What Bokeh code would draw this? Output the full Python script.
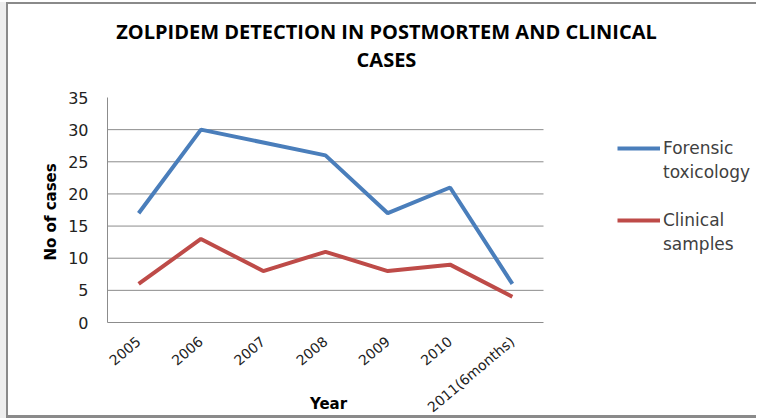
from bokeh.plotting import figure
from bokeh.models import (Range1d, Legend, LegendItem, Title, Label,
                          FixedTicker, ColumnDataSource)
from bokeh.embed import file_html
from bokeh.resources import INLINE

# ---- data ----
years = ["2005", "2006", "2007", "2008", "2009", "2010", "2011(6months)"]
forensic = [17, 30, 28, 26, 17, 21, 6]
clinical = [6, 13, 8, 11, 8, 9, 4]
y_ticks = [0, 5, 10, 15, 20, 25, 30, 35]
title_lines = ["ZOLPIDEM DETECTION IN POSTMORTEM AND CLINICAL", "CASES"]
series_names = [("Forensic", "toxicology"), ("Clinical", "samples")]
x_title = "Year"
y_title = "No of cases"

BLUE = "#4A7EBB"
RED = "#BE4B48"
GRID = "#8c8c8c"

n = len(years)
x_pos = [i + 0.5 for i in range(n)]          # category centres
y_max = y_ticks[-1]

# plot area: data part is 436 x 225 px; frame is extended right/up to host the
# legend and title (annotations are clipped to the frame)
FRAME_W, FRAME_H = 651, 318
DATA_W, DATA_H = 436, 225

src = ColumnDataSource(dict(x=x_pos, forensic=forensic, clinical=clinical))
grid_src = ColumnDataSource(dict(x0=[0] * (len(y_ticks) - 2), x1=[n] * (len(y_ticks) - 2),
                                 y=y_ticks[1:-1]))
empty = ColumnDataSource(dict(x=[], v=[]))

p = figure(width=750, height=416,
           x_range=Range1d(0, n * FRAME_W / DATA_W),
           y_range=Range1d(0, y_max * FRAME_H / DATA_H),
           output_backend="svg", toolbar_location=None,
           min_border_left=99, min_border_right=0,
           min_border_top=0, min_border_bottom=98)
p.styles = {"margin-left": "6px", "margin-top": "2px",
            "border-left": "2px solid #8a8a8a",
            "border-top": "2px solid #8a8a8a",
            "border-bottom": "3px solid #8a8a8a",
            "box-shadow": "-8px 0 0 0 #eeeeee"}

p.outline_line_color = None
p.background_fill_color = "white"
p.border_fill_color = "white"
p.xgrid.visible = False
p.ygrid.visible = False

# horizontal grid lines, limited to the data area
p.segment(x0="x0", x1="x1", y0="y", y1="y", source=grid_src,
          line_color=GRID, line_width=1)

r1 = p.line(x="x", y="forensic", source=src, line_color=BLUE, line_width=4)
r2 = p.line(x="x", y="clinical", source=src, line_color=RED, line_width=4)
dummy = p.line(x="x", y="v", source=empty, line_alpha=0)

# y axis
p.yaxis.ticker = FixedTicker(ticks=y_ticks)
p.yaxis.bounds = (0, y_max)
p.yaxis.axis_line_color = GRID
p.yaxis.major_tick_out = 0
p.yaxis.major_tick_in = 0
p.yaxis.minor_tick_out = 0
p.yaxis.minor_tick_in = 0
p.yaxis.major_label_standoff = 19
p.yaxis.major_label_text_font = "DejaVu Sans"
p.yaxis.major_label_text_font_size = "16px"
p.yaxis.major_label_text_color = "#222222"

# y axis title (left panel, placed along the data part of the axis)
p.add_layout(Title(text=y_title, align="left", offset=62, standoff=12,
                   text_font="DejaVu Sans", text_font_style="bold",
                   text_font_size="15px", text_color="black"), "left")

# x axis
p.xaxis.ticker = FixedTicker(ticks=x_pos)
p.xaxis.major_label_overrides = {x: lab for x, lab in zip(x_pos, years)}
p.xaxis.bounds = (0, n)
p.xaxis.axis_line_color = GRID
p.xaxis.major_tick_out = 0
p.xaxis.major_tick_in = 0
p.xaxis.minor_tick_out = 0
p.xaxis.minor_tick_in = 0
p.xaxis.major_label_orientation = 0.70
p.xaxis.major_label_standoff = 17
p.xaxis.major_label_text_font = "DejaVu Sans"
p.xaxis.major_label_text_font_size = "14px"
p.xaxis.major_label_text_color = "#222222"
p.xaxis.axis_label = x_title + "\u00a0" * 40
p.xaxis.axis_label_text_font = "DejaVu Sans"
p.xaxis.axis_label_text_font_style = "bold"
p.xaxis.axis_label_text_font_size = "15px"
p.xaxis.axis_label_text_color = "black"
p.xaxis.axis_label_standoff = -29

# chart title (frame-relative screen units)
for txt, ry in zip(title_lines, [291, 263]):
    p.add_layout(Label(x=279, y=ry, x_units="screen", y_units="screen",
                       text=txt, text_align="center", text_baseline="middle",
                       text_font="Open Sans", text_font_style="bold",
                       text_font_size="20px", text_color="black"))

# legend
legend = Legend(items=[LegendItem(label=series_names[0][0], renderers=[r1]),
                       LegendItem(label=series_names[0][1], renderers=[dummy]),
                       LegendItem(label=" ", renderers=[dummy]),
                       LegendItem(label=series_names[1][0], renderers=[r2]),
                       LegendItem(label=series_names[1][1], renderers=[dummy])],
                location=(510, 68), orientation="vertical", ncols=1,
                padding=0, margin=0, spacing=4,
                glyph_width=43, glyph_height=20, label_height=20,
                label_standoff=3, label_text_font="DejaVu Sans",
                label_text_font_size="17px", label_text_color="#404040",
                border_line_alpha=0, background_fill_alpha=0)
p.add_layout(legend)

open("out.html", "w").write(file_html(p, INLINE))
